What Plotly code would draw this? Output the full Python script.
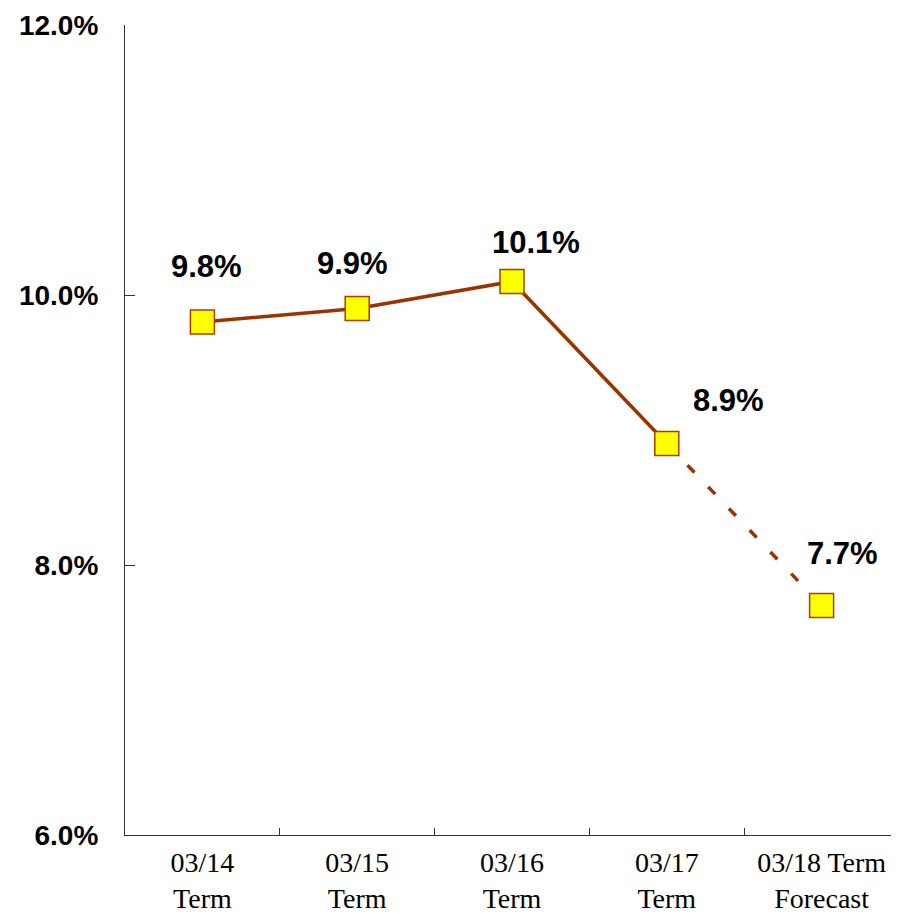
import plotly.graph_objects as go

categories = ["03/14<br>Term", "03/15<br>Term", "03/16<br>Term", "03/17<br>Term", "03/18 Term<br>Forecast"]
values = [9.8, 9.9, 10.1, 8.9, 7.7]
label_texts = [f"{v:.1f}%" for v in values]
y_tickvals = [6, 8, 10, 12]
y_ticktext = [f"{v:.1f}%" for v in y_tickvals]

# label offsets in pixels (style)
label_dx = [4, -5, 24, 62, 21]
label_dy = [56, 45, 39, 43, 52]

LINE = "#993300"

fig = go.Figure()
# actual (solid)
fig.add_trace(go.Scatter(
    x=categories[:4], y=values[:4], mode="lines",
    line=dict(color=LINE, width=3.5), hoverinfo="skip", showlegend=False))
# forecast (dashed)
fig.add_trace(go.Scatter(
    x=categories[3:], y=values[3:], mode="lines",
    line=dict(color=LINE, width=3.5, dash="10px,20px"), hoverinfo="skip", showlegend=False))
# markers
fig.add_trace(go.Scatter(
    x=categories, y=values, mode="markers",
    marker=dict(symbol="square", size=24, color="#FFFF00", line=dict(color="#B03C00", width=1.5)),
    showlegend=False))

for c, v, t, dx, dy in zip(categories, values, label_texts, label_dx, label_dy):
    fig.add_annotation(x=c, y=v, text=t, showarrow=False, xanchor="center", yanchor="middle",
                       xshift=dx, yshift=dy,
                       font=dict(family="Liberation Sans, Arial, sans-serif", size=31,
                                 color="#000000", weight="bold"))

# page body has an 8px margin, so the figure is sized/offset to compensate
fig.update_layout(
    width=891, height=906,
    margin=dict(l=117, r=0, t=17, b=79),
    paper_bgcolor="white", plot_bgcolor="white",
)
fig.update_xaxes(
    type="category", categoryorder="array", categoryarray=categories,
    range=[-0.5, 4.5], showline=True, linecolor="#333333", linewidth=1.2,
    ticks="inside", tickson="boundaries", ticklen=7, tickcolor="#333333", tickwidth=1.2,
    showgrid=False, zeroline=False, ticklabelstandoff=2, automargin=False,
    tickfont=dict(family="Liberation Serif, Times New Roman, serif", size=28, color="#000000"))
fig.update_yaxes(
    range=[6, 12], tickvals=y_tickvals, ticktext=y_ticktext,
    showline=True, linecolor="#333333", linewidth=1.2,
    ticks="inside", ticklen=10, tickcolor="#333333", tickwidth=1.2,
    showgrid=False, zeroline=False, ticklabelstandoff=20, automargin=False,
    tickfont=dict(family="Liberation Sans, Arial, sans-serif", size=28,
                  color="#000000", weight="bold"))

fig.write_html("out.html")
